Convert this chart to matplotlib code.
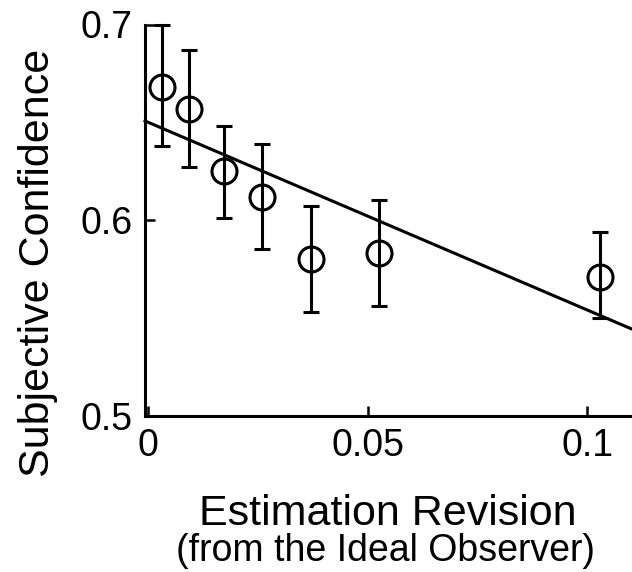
import matplotlib
matplotlib.use("Agg")
import matplotlib.pyplot as plt
import numpy as np

plt.rcParams['font.family'] = ['Liberation Sans', 'DejaVu Sans']

# Data
revision = [0.0032, 0.0094, 0.0174, 0.0260, 0.0370, 0.0525, 0.1030]
confidence = [0.668, 0.657, 0.625, 0.612, 0.580, 0.583, 0.571]
err_upper = [0.700, 0.687, 0.648, 0.639, 0.607, 0.610, 0.594]
err_lower = [0.638, 0.627, 0.601, 0.585, 0.553, 0.556, 0.550]

# Linear fit parameters
fit_intercept = 0.650
fit_slope = -0.96

x_ticks = [0, 0.05, 0.1]
x_ticklabels = ['0', '0.05', '0.1']
y_ticks = [0.5, 0.6, 0.7]
y_ticklabels = ['0.5', '0.6', '0.7']

W, H = 632, 572
fig = plt.figure(figsize=(W / 100, H / 100), dpi=100)
ax = fig.add_axes([145 / W, 1 - 415.5 / H, (631 - 145) / W, (415.5 - 24.5) / H])

xmin, xmax = -0.0007, 0.110
ax.set_xlim(xmin, xmax)
ax.set_ylim(0.5, 0.7)

conf = np.array(confidence)
yerr = np.vstack([conf - np.array(err_lower), np.array(err_upper) - conf])

xl = np.array([xmin, xmax])
ax.plot(xl, fit_intercept + fit_slope * xl, color='black', lw=2.2, clip_on=False, zorder=2)

ax.errorbar(revision, confidence, yerr=yerr, fmt='o', ms=18, mfc='none', mec='black',
            mew=2.2, ecolor='black', elinewidth=2.2, capsize=5.5, capthick=2.2,
            clip_on=False, zorder=3)

for s in ['top', 'right']:
    ax.spines[s].set_visible(False)
for s in ['left', 'bottom']:
    ax.spines[s].set_linewidth(2.2)

ax.set_xticks(x_ticks)
ax.set_xticklabels(x_ticklabels)
ax.set_yticks(y_ticks)
ax.set_yticklabels(y_ticklabels)
ax.tick_params(direction='in', length=7, width=1.8, labelsize=27, pad=9)

fig.text(388 / W, 1 - 514 / H, 'Estimation Revision', ha='center', va='center', fontsize=31)
fig.text(386 / W, 1 - 551 / H, '(from the Ideal Observer)', ha='center', va='center', fontsize=27)
fig.text(38 / W, 1 - 262.5 / H, 'Subjective Confidence', ha='center', va='center',
         rotation=90, fontsize=31)

fig.savefig('out.png', dpi=100)
